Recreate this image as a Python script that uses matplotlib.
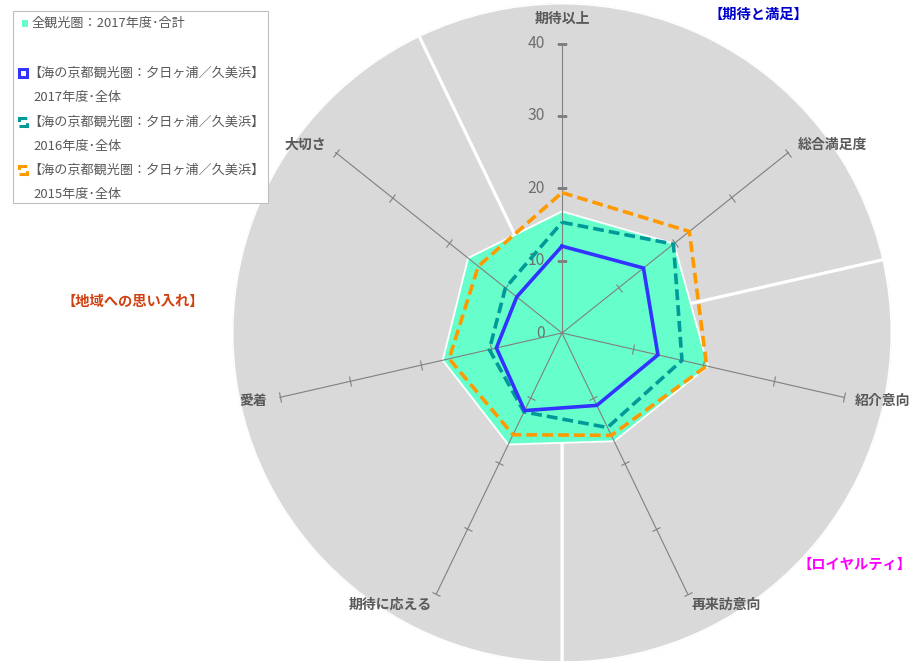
import numpy as np
import matplotlib
matplotlib.use("Agg")
import matplotlib.pyplot as plt
from matplotlib.markers import MarkerStyle
from matplotlib.transforms import Affine2D
from matplotlib.patches import Rectangle

plt.rcParams['font.family'] = ['Noto Sans CJK JP', 'DejaVu Sans']

# ---------------- data ----------------
categories = ['期待以上', '総合満足度', '紹介意向', '再来訪意向', '期待に応える', '愛着', '大切さ']
all_2017 = [16.8, 19.8, 20.7, 16.6, 17.1, 16.9, 16.6]
umi_2017 = [12.0, 14.4, 13.6, 11.1, 11.9, 9.3, 8.0]
umi_2016 = [15.3, 19.7, 17.0, 14.5, 12.1, 10.3, 10.0]
umi_2015 = [19.4, 22.5, 20.5, 15.7, 15.6, 16.0, 14.8]
groups = ['【期待と満足】', '【ロイヤルティ】', '【地域への思い入れ】']
group_counts = [2, 2, 3]
r_ticks = [0, 10, 20, 30, 40]
series_labels = ['全観光圏：2017年度･合計',
                 '【海の京都観光圏：夕日ヶ浦／久美浜】\n2017年度･全体',
                 '【海の京都観光圏：夕日ヶ浦／久美浜】\n2016年度･全体',
                 '【海の京都観光圏：夕日ヶ浦／久美浜】\n2015年度･全体']

W, H = 913, 661
fig = plt.figure(figsize=(W / 100, H / 100), dpi=100)

def fx(x):
    return x / W

def fy(y):
    return 1 - y / H

cx, cy = 562, 333
R_px = 330
rmax = 45.6
ax = fig.add_axes([fx(cx - R_px), fy(cy + R_px), 2 * R_px / W, 2 * R_px / H], projection='polar')
ax.set_theta_offset(np.pi / 2)
ax.set_theta_direction(-1)
ax.set_ylim(0, rmax)
ax.axis('off')

n = len(categories)
step = 2 * np.pi / n
theta = np.arange(n) * step

# background sectors (pie)
start = 0
for g, c in zip(groups, group_counts):
    center = (start + c / 2 - 0.5) * step
    ax.bar(center, rmax, width=c * step, bottom=0, color='#D9D9D9',
           edgecolor='white', linewidth=2.2, zorder=1)
    start += c

def closed(v):
    return np.append(theta, theta[0]), np.append(v, v[0])

# filled series
t, v = closed(all_2017)
ax.fill(t, v, facecolor='#66FFCC', edgecolor='white', linewidth=1.3, zorder=2)

# spokes and ticks
for i in range(n):
    ax.plot([theta[i], theta[i]], [0, 40], color='#808080', lw=0.8, zorder=3)
    ms = MarkerStyle('_', transform=Affine2D().rotate_deg(-i * 360 / n))
    ax.plot([theta[i]] * 4, r_ticks[1:], ls='none', marker=ms, ms=7,
            mew=0.8, color='#808080', zorder=3)

# radial tick labels
for r in r_ticks:
    ax.annotate(str(r), xy=(0, r), xytext=(-17, 0), textcoords='offset pixels',
                ha='right', va='center', fontsize=11.3, color='#6E6E6E', zorder=2.5)

# line series
dash = (0, (3.0, 1.4))
t, v = closed(umi_2017)
ax.plot(t, v, color='#3333FF', lw=2.6, zorder=5, solid_joinstyle='miter')
t, v = closed(umi_2016)
ax.plot(t, v, color='#009999', lw=2.6, ls=dash, zorder=4)
t, v = closed(umi_2015)
ax.plot(t, v, color='#FF9900', lw=2.6, ls=dash, zorder=4)

# category labels
offsets = [((0, 25), 'center'), ((9, 8), 'left'), ((11, -4), 'left'), ((4, -11), 'left'),
           ((-4, -11), 'right'), ((-13, -4), 'right'), ((-10, 8), 'right')]
for i, lab in enumerate(categories):
    (ox, oy), ha = offsets[i]
    ax.annotate(lab, xy=(theta[i], 40), xytext=(ox, oy), textcoords='offset pixels',
                ha=ha, va='center', fontsize=10.0, fontweight='bold', color='#595959',
                annotation_clip=False)

# group labels
group_pos = [(758, 15, '#0000CC'), (854, 565, '#FF00FF'), (133, 302, '#D04010')]
for g, (x, y, col) in zip(groups, group_pos):
    fig.text(fx(x), fy(y), g, ha='center', va='center', fontsize=10.3,
             fontweight='bold', color=col)

# legend (manual)
fig.add_artist(Rectangle((fx(13), fy(203)), 255 / W, 192 / H, transform=fig.transFigure,
                         facecolor='white', edgecolor='#BFBFBF', lw=0.8, zorder=10))
tc = '#595959'
fs = 9.45
fig.add_artist(Rectangle((fx(22), fy(27)), 6 / W, 7 / H, transform=fig.transFigure,
                         facecolor='#66FFCC', edgecolor='none', zorder=11))
fig.text(fx(32), fy(23), series_labels[0], va='center', fontsize=fs, color=tc, zorder=11)

icons = [('#3333FF', '-'), ('#009999', '--'), ('#FF9900', '--')]
rows = [73, 122, 170]
for (col, ls), y, lab in zip(icons, rows, series_labels[1:]):
    fig.add_artist(Rectangle((fx(18.5), fy(y + 4)), 8 / W, 8 / H, transform=fig.transFigure,
                             facecolor='white', edgecolor=col, lw=2.2, ls=ls, zorder=11))
    l1, l2 = lab.split('\n')
    fig.text(fx(28), fy(y), l1, va='center', fontsize=fs, color=tc, zorder=11)
    fig.text(fx(33), fy(y + 24.5), l2, va='center', fontsize=fs, color=tc, zorder=11)

fig.savefig('out.png', dpi=100)
